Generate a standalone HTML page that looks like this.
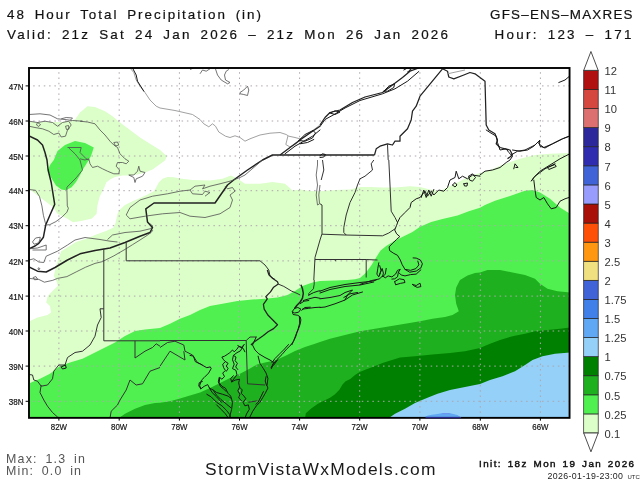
<!DOCTYPE html>
<html><head><meta charset="utf-8"><title>48 Hour Total Precipitation</title>
<style>
html,body{margin:0;padding:0;background:#fff;}
body{width:640px;height:480px;overflow:hidden;position:relative;font-family:"Liberation Sans",sans-serif;}
svg{position:absolute;left:0;top:0;}
text{font-family:"Liberation Sans",sans-serif;}
.t1{font-size:13.4px;fill:#111;word-spacing:3px;stroke:#111;stroke-width:0.2px;}
.ax{font-size:9.6px;fill:#111;stroke:#111;stroke-width:0.2px;}
.cb{font-size:11.2px;fill:#333;}
.mm{font-size:12.4px;fill:#555;word-spacing:3px;}
.wm{font-size:17.4px;fill:#1a1a1a;}
.in{font-size:9.8px;fill:#111;stroke:#111;stroke-width:0.45px;word-spacing:1.5px;}
.ts{font-size:8.8px;fill:#222;}
.c{fill:none;stroke:#181818;stroke-width:1.0;stroke-linejoin:round;stroke-linecap:round;}
.s{fill:none;stroke:#333;stroke-width:1.0;stroke-linejoin:round;}
.k{fill:none;stroke:#505050;stroke-width:0.8;stroke-linejoin:round;}
.s2{fill:none;stroke:#222;stroke-width:1.25;stroke-linejoin:round;}
.b{fill:none;stroke:#222;stroke-width:1.5;stroke-linejoin:round;}
.r{fill:none;stroke:#969696;stroke-width:0.9;stroke-linejoin:round;}
.g{stroke:#aea6ae;stroke-width:1;stroke-dasharray:1.5 3.8;stroke-dashoffset:-4.2;fill:none;}
</style></head><body>
<svg width="640" height="480" viewBox="0 0 640 480">
<defs><clipPath id="fr"><rect x="29.0" y="68.0" width="540.55" height="349.85"/></clipPath></defs>
<rect width="640" height="480" fill="#fff"/>
<g clip-path="url(#fr)" shape-rendering="geometricPrecision">
<polygon fill="#dcfec9" points="28.0,122.0 50.0,122.0 62.5,122.0 75.0,119.5 80.0,112.5 87.5,106.2 95.0,107.0 105.0,111.2 112.5,116.2 120.0,122.5 130.0,130.0 140.0,137.5 150.0,143.8 160.0,150.0 166.9,156.2 165.0,160.6 158.8,165.0 152.5,169.4 145.0,172.5 137.5,174.4 130.0,175.6 122.5,175.6 115.0,176.9 110.0,179.4 106.2,182.5 104.4,187.2 99.7,196.6 97.3,205.9 96.6,213.8 91.9,218.4 82.5,220.8 73.1,222.3 66.9,218.4 57.5,213.8 53.6,207.5 29.7,189.5 28.0,189.5"/>
<polygon fill="#dcfec9" points="28.0,321.0 30.0,321.0 37.5,317.5 47.5,315.0 51.0,312.5 50.0,306.0 46.2,302.5 47.8,296.0 53.5,290.0 57.8,286.0 56.5,281.0 53.8,276.0 55.6,268.1 58.4,258.8 61.2,251.2 68.8,246.5 76.0,242.0 87.5,238.3 95.0,235.0 106.0,231.0 113.5,227.5 115.5,223.0 117.5,214.0 119.4,210.0 125.0,205.0 132.5,201.2 140.0,198.1 147.5,194.4 153.8,191.2 156.2,187.5 158.8,182.5 162.5,178.8 167.5,176.9 173.8,177.2 180.0,178.5 192.5,180.0 210.0,180.5 222.5,178.8 231.0,175.5 237.5,178.8 245.0,183.8 260.0,183.8 272.5,182.0 285.0,183.8 292.5,190.5 300.0,189.5 310.0,191.0 320.0,191.2 335.0,190.0 350.0,189.5 360.0,187.0 370.0,187.0 382.5,187.5 395.0,187.5 410.0,186.2 420.0,187.0 430.0,189.5 440.0,191.0 455.0,183.8 470.0,176.0 490.0,170.0 505.0,163.8 520.0,158.8 535.0,155.0 550.0,153.8 571.0,153.0 571.0,420.0 28.0,420.0"/>
<polygon fill="#50f050" points="53.8,160.0 57.5,151.0 65.0,145.0 75.0,141.0 85.0,143.0 93.8,147.5 91.0,156.0 88.8,160.0 82.5,170.0 80.2,174.7 76.2,181.7 71.6,187.2 66.0,190.3 61.4,189.5 56.0,185.6 51.2,177.8 48.1,170.0 50.0,165.0"/>
<polygon fill="#50f050" points="28.0,384.0 30.0,383.0 40.0,378.8 50.0,373.8 60.0,366.0 70.0,362.5 82.5,358.8 95.0,352.5 105.0,347.5 115.0,342.5 125.0,336.0 135.0,331.0 145.0,329.5 160.0,328.0 170.0,323.8 180.0,318.8 190.0,315.0 200.0,310.0 210.0,306.0 222.5,303.8 237.5,301.0 252.5,299.5 265.0,298.8 277.5,297.5 287.5,295.0 295.0,291.0 302.5,286.0 312.5,282.5 320.0,281.0 335.0,280.5 347.5,280.0 355.0,279.3 360.0,278.0 365.6,273.1 371.2,265.6 376.9,256.2 380.6,250.6 386.2,245.9 393.8,241.2 401.2,237.5 412.5,231.9 420.0,226.8 431.2,222.0 442.5,219.0 457.5,215.5 468.8,211.2 480.0,207.8 485.0,205.0 495.0,200.8 510.0,196.0 525.0,190.8 532.5,190.0 540.0,192.5 550.0,198.8 560.0,207.5 571.0,214.5 571.0,420.0 28.0,420.0"/>
<polygon fill="#1eb01e" points="117.5,419.0 125.0,413.8 135.0,408.8 145.0,405.0 155.0,403.0 160.0,402.7 170.0,401.2 180.0,398.5 190.0,395.5 200.0,392.5 210.0,388.0 220.0,383.0 230.0,378.0 240.0,373.8 250.0,368.5 257.0,364.5 265.0,362.5 275.0,360.5 285.0,356.0 295.0,351.0 305.0,347.0 315.0,343.8 320.0,342.0 330.0,338.8 345.0,335.0 360.0,331.2 375.0,328.8 390.0,326.2 405.0,323.8 420.0,321.2 432.5,318.8 445.0,317.0 452.5,315.0 458.8,311.2 456.2,303.8 455.0,295.0 456.2,287.5 460.0,280.0 467.5,275.5 475.0,273.0 480.0,272.5 487.5,270.0 500.0,270.0 512.5,272.5 525.0,275.0 535.0,278.8 540.0,283.8 547.5,288.8 557.5,291.2 571.0,292.5 571.0,420.0 117.5,420.0"/>
<polygon fill="#008000" points="305.0,419.0 305.8,413.3 311.2,408.6 317.5,403.9 323.8,400.8 330.0,397.7 334.7,394.5 339.4,389.8 342.5,384.4 345.6,381.2 350.3,378.9 355.0,375.0 359.7,371.9 365.9,369.5 373.8,366.4 382.5,363.0 392.0,360.0 400.0,357.5 415.0,356.2 432.5,354.5 450.0,353.0 465.0,351.2 480.0,348.0 490.0,343.8 500.0,340.0 512.5,336.2 525.0,333.8 535.0,331.2 547.5,330.0 560.0,328.8 571.0,327.5 571.0,420.0 305.0,420.0"/>
<polygon fill="#94d0f8" points="387.5,419.0 395.0,413.8 405.0,408.8 415.0,403.0 425.0,398.8 437.5,393.8 450.0,390.0 465.0,387.0 480.0,384.0 490.0,380.0 502.5,376.2 515.0,371.2 525.0,365.0 532.5,360.0 542.5,356.2 555.0,353.8 571.0,352.5 571.0,420.0 387.5,420.0"/>
<polygon fill="#60a8f4" points="425.3,419.0 425.3,416.5 428.1,415.6 431.9,414.7 437.5,413.9 443.1,413.1 448.8,413.1 453.4,413.9 457.2,415.1 460.0,416.5 460.5,419.0"/>
<polygon fill="#6c98ee" points="441.0,414.2 443.1,413.1 448.8,413.1 451.0,414.2"/>
<line class="g" x1="58.9" y1="68.0" x2="58.9" y2="417.85"/>
<line class="g" x1="119.2" y1="68.0" x2="119.2" y2="417.85"/>
<line class="g" x1="179.4" y1="68.0" x2="179.4" y2="417.85"/>
<line class="g" x1="239.5" y1="68.0" x2="239.5" y2="417.85"/>
<line class="g" x1="299.6" y1="68.0" x2="299.6" y2="417.85"/>
<line class="g" x1="359.7" y1="68.0" x2="359.7" y2="417.85"/>
<line class="g" x1="419.9" y1="68.0" x2="419.9" y2="417.85"/>
<line class="g" x1="480.3" y1="68.0" x2="480.3" y2="417.85"/>
<line class="g" x1="540.4" y1="68.0" x2="540.4" y2="417.85"/>
<line class="g" x1="29.0" y1="85.9" x2="569.55" y2="85.9"/>
<line class="g" x1="29.0" y1="121.0" x2="569.55" y2="121.0"/>
<line class="g" x1="29.0" y1="156.0" x2="569.55" y2="156.0"/>
<line class="g" x1="29.0" y1="190.7" x2="569.55" y2="190.7"/>
<line class="g" x1="29.0" y1="225.7" x2="569.55" y2="225.7"/>
<line class="g" x1="29.0" y1="260.9" x2="569.55" y2="260.9"/>
<line class="g" x1="29.0" y1="296.1" x2="569.55" y2="296.1"/>
<line class="g" x1="29.0" y1="331.0" x2="569.55" y2="331.0"/>
<line class="g" x1="29.0" y1="366.1" x2="569.55" y2="366.1"/>
<line class="g" x1="29.0" y1="401.3" x2="569.55" y2="401.3"/>
<polyline class="b" points="29.0,136.0 37.5,140.0 42.5,145.0 45.0,152.5 47.0,160.0 48.1,170.0 51.2,182.5 54.7,204.4 51.2,212.2 45.8,224.7 43.4,237.2 38.8,243.4 35.0,246.0 29.0,248.8"/>
<polyline class="b" points="29.0,267.0 37.5,271.2 46.2,272.0 55.0,267.5 67.5,260.0 80.0,253.8 95.0,250.5 110.0,248.0 125.0,242.5 140.0,236.2 150.0,232.5 152.5,227.5 147.5,222.0 145.8,208.8 154.0,203.0 215.0,203.0 227.5,185.0 235.0,179.0 247.5,170.0 262.5,160.0 272.5,155.0 374.5,155.0"/>
<polyline class="k" points="29.0,114.5 40.0,113.8 50.0,115.0 57.5,118.8 65.0,119.5 72.5,120.5 82.5,121.2"/>
<polyline class="k" points="80.0,121.2 87.5,122.0 95.0,123.8 100.0,130.0 105.0,135.0 110.0,141.2 113.8,145.0 117.5,147.5 120.0,153.8 125.0,158.8 128.8,161.2 126.2,163.8 122.5,162.5 117.5,162.5 116.2,166.2 119.5,170.0 118.8,173.8 113.8,173.8 107.5,171.2 102.5,168.8 97.5,166.2 92.5,167.5 90.0,163.8 88.8,158.8 85.0,160.0 80.0,158.8"/>
<polyline class="k" points="113.8,142.5 117.5,142.0 118.8,145.0 115.5,146.0 113.8,142.5"/>
<polyline class="k" points="128.8,175.0 133.8,177.5 135.0,182.5 136.2,178.8 142.5,176.2 145.0,172.5 140.0,171.2 138.8,166.2 137.5,171.2 133.8,175.0 128.8,175.0"/>
<polyline class="k" points="29.0,121.2 37.5,122.5 45.0,121.2 52.5,122.5 57.5,126.2 62.5,122.5 68.8,121.2 71.2,125.0 67.5,130.0 65.5,136.2 61.2,137.0 58.8,133.0 53.8,134.5 48.8,131.2 42.5,128.8 35.0,127.5 29.0,126.2"/>
<polyline class="k" points="37.5,122.5 40.5,124.5 38.8,126.5 36.5,125.0 37.5,122.5"/>
<polyline class="k" points="61.2,118.8 66.2,117.5 72.5,118.0 70.0,120.5"/>
<polyline class="k" points="65.5,126.2 68.5,125.5 69.0,129.0 66.5,129.5 65.5,126.2"/>
<polyline class="k" points="67.5,147.5 81.2,147.5 80.0,152.5 86.2,158.8 88.8,160.0"/>
<polyline class="k" points="68.8,148.0 75.0,153.8 80.0,160.0"/>
<polyline class="k" points="82.5,170.0 76.2,177.8 70.0,184.1 66.9,187.2 66.9,190.3 67.3,205.9 68.4,208.3 66.9,212.2 62.2,216.9 55.9,221.6 49.7,224.7 45.8,225.0"/>
<polyline class="k" points="80.0,160.0 82.5,170.0"/>
<polyline class="k" points="29.1,189.5 35.6,190.3 39.5,196.6 41.9,205.9 43.4,215.3 45.8,224.7"/>
<polyline class="k" points="32.5,241.9 35.6,238.0 40.3,237.2 39.5,241.1 37.2,243.4 34.1,244.2 32.5,241.9"/>
<polyline class="k" points="29.0,248.8 37.5,248.0 46.2,245.0 46.2,250.0 32.5,250.0"/>
<polyline class="r" points="130.0,68.0 133.8,72.5 136.2,80.0 140.0,86.2 145.0,92.5 150.0,100.0 156.2,106.2 160.0,108.0"/>
<polyline class="c" points="132.5,68.0 136.2,75.0 137.5,81.2 143.8,91.2"/>
<polyline class="r" points="160.0,108.0 175.0,110.5 192.5,114.5 200.0,119.5 203.8,123.8 208.8,126.8 212.5,123.8 215.5,126.2 218.8,132.0 225.5,136.2 230.0,137.5 235.0,135.8 240.0,137.5 245.0,141.2 250.0,138.8 260.0,135.0 270.0,133.2 280.0,132.5 286.2,134.5 288.8,136.2 295.0,137.5 300.0,138.8 305.0,136.2 310.0,132.5 315.0,128.8 320.0,125.0"/>
<polyline class="r" points="288.0,135.8 285.8,144.5 290.0,147.0 296.2,143.8 300.0,140.0"/>
<polyline class="k" points="126.2,215.0 130.0,207.5 140.0,200.0 152.5,196.2 167.5,193.8 180.0,191.2 190.0,190.0 195.0,186.2 205.0,185.0 202.5,188.8 210.0,186.2 220.0,183.8 230.0,181.2 240.0,177.5 245.0,175.0 262.5,160.0"/>
<polyline class="k" points="190.0,190.0 192.5,193.8 202.5,194.5 205.0,191.2 210.0,192.5 205.0,196.2"/>
<polyline class="k" points="126.2,215.0 130.0,218.8 145.0,216.2 162.5,213.8 180.0,212.5 190.0,216.2 205.0,217.5 220.0,213.8 230.0,207.5 232.5,200.0 230.0,195.0 235.0,191.2 232.5,187.5 227.5,188.8 225.0,186.2"/>
<polyline class="k" points="29.0,260.0 33.8,258.8 38.8,262.0 43.8,262.5 46.2,256.2 57.5,251.2 67.5,245.0 75.0,240.0 85.0,237.5 100.0,239.5 110.0,241.2 117.5,242.0"/>
<polyline class="k" points="107.5,239.5 112.5,235.0 125.0,232.5 140.0,231.2 150.0,228.8 153.0,226.2 150.0,223.8"/>
<polyline class="k" points="29.0,278.4 38.8,279.4 44.4,282.2 52.8,280.3 57.5,278.4 66.9,276.6 76.2,271.9 85.6,267.2 95.0,263.4 102.5,261.6 113.8,255.9 125.0,249.4 132.5,244.7 140.0,240.0 146.0,236.1 151.1,232.5 152.9,230.1"/>
<polyline class="k" points="33.1,277.5 35.9,276.6 37.8,279.4 34.6,279.8 33.1,277.5"/>
<polyline class="k" points="38.4,267.8 39.9,268.5 38.8,270.0 38.0,268.9 38.4,267.8"/>
<polyline class="k" points="190.0,69.5 193.8,68.0"/>
<polyline class="k" points="200.0,73.8 202.5,70.0 206.2,71.2 210.0,68.8"/>
<polyline class="k" points="215.5,69.0 217.5,75.0 221.2,80.0 227.5,83.8 230.0,82.5 225.5,80.0 224.5,75.0 226.2,71.2 228.8,69.5"/>
<polyline class="k" points="240.0,92.5 243.8,90.0 247.5,86.2 248.8,90.0 247.5,95.5 243.8,94.5 240.0,93.8 240.0,92.5"/>
<polyline class="s2" points="280.0,155.0 290.0,147.5 300.0,140.0 310.0,133.0 320.0,126.2"/>
<polyline class="c" points="285.0,153.8 295.0,146.2 303.8,141.2 312.5,136.2 320.0,130.0"/>
<polyline class="c" points="298.8,140.5 305.0,134.5 313.0,130.5 315.5,133.0 312.5,138.0 305.0,141.2 298.8,140.5"/>
<polyline class="c" points="300.0,143.8 307.5,142.5 313.8,139.5"/>
<polyline class="s2" points="320.0,125.0 325.0,117.5 330.0,112.5 340.0,110.0 352.5,102.5 365.0,97.0 382.5,92.5 392.5,85.0 402.5,77.5 410.0,71.2 418.8,68.0"/>
<polyline class="c" points="320.0,126.5 325.0,119.5 335.0,114.0 345.0,108.0 360.0,100.5 382.5,93.8 395.0,88.8 407.5,81.2 418.8,71.5"/>
<polyline class="c" points="330.0,113.0 335.0,110.8 340.0,112.0 335.0,114.5 330.0,113.0"/>
<polyline class="c" points="383.8,91.2 388.8,86.2 394.5,83.8 393.8,87.5 387.5,91.2 383.8,91.2"/>
<polyline class="c" points="403.8,70.0 407.5,68.0 411.2,69.5 407.5,72.0"/>
<polyline class="s2" points="442.5,68.8 420.0,96.2 416.2,106.2 412.5,111.2 411.2,120.0 407.5,128.8 400.0,136.2 400.0,141.2 395.0,141.2 392.5,145.0 387.5,143.8 380.0,146.2 376.2,148.8 374.5,155.0"/>
<polyline class="s" points="387.5,144.5 388.2,160.0"/>
<polyline class="s2" points="442.5,68.8 447.5,71.2 448.8,77.0 453.8,78.8 463.8,75.0 470.0,72.5 475.0,73.8 480.0,77.5"/>
<polyline class="r" points="447.5,73.8 465.0,70.0"/>
<polyline class="c" points="320.0,155.5 322.5,153.8 325.5,154.5 323.8,157.0 320.0,157.5"/>
<polyline class="s2" points="480.0,77.5 485.0,81.2 486.2,125.0 488.8,130.0 495.0,133.8 497.5,140.0 496.2,143.8 500.0,147.5 505.0,148.8 510.0,150.0 512.5,155.0 507.5,158.8"/>
<polyline class="c" points="512.5,150.0 520.0,151.2 527.5,150.0 533.8,146.2 538.8,141.2 540.0,140.0 538.8,143.8 543.8,147.5 552.5,143.8 562.5,138.8 569.5,136.2"/>
<polyline class="c" points="558.8,82.5 565.0,80.0 569.5,76.2"/>
<polyline class="s" points="103.8,248.8 103.8,280.0"/>
<polyline class="s" points="126.2,242.5 126.2,260.8 160.0,260.8"/>
<polyline class="s" points="160.0,260.8 260.0,260.8 265.0,265.0 268.8,270.0 270.0,276.2 275.0,279.5"/>
<polyline class="k" points="317.5,160.0 317.5,165.0 316.2,175.0 317.5,185.0 316.2,195.0 317.5,205.0 319.5,203.8 318.8,195.0 320.0,185.0"/>
<polyline class="s" points="320.0,240.0 315.0,257.5 313.8,280.0"/>
<polyline class="s" points="315.0,259.5 320.0,259.5"/>
<polyline class="s" points="373.8,160.0 371.2,163.8 372.5,170.0 365.0,176.2 360.0,178.8 357.5,185.0 355.0,192.5 350.0,202.5 346.2,215.0 343.8,227.5 343.8,232.5 346.2,235.0"/>
<polyline class="s" points="322.5,160.0 323.8,170.0 321.2,180.0"/>
<polyline class="s" points="320.0,203.8 322.0,205.0 322.0,233.8 320.0,240.0"/>
<polyline class="s" points="322.0,234.2 345.0,235.0 382.5,235.8 388.8,233.0 395.0,228.8"/>
<polyline class="s" points="388.8,160.0 390.0,185.0 391.2,211.2 395.0,217.5 397.5,222.5"/>
<polyline class="c" points="397.5,222.5 400.0,217.5 405.0,212.5 410.0,207.5 411.2,202.5 416.2,198.8 420.0,197.5 425.0,191.2 427.5,196.2 431.2,191.2 433.8,195.0 438.8,190.0 443.8,191.2 447.5,187.5 450.0,180.0 455.0,177.5 456.2,171.2 458.8,178.8 462.5,176.2 467.5,178.8 472.5,175.0 480.0,176.2"/>
<polyline class="c" points="421.2,197.5 423.8,190.0 426.2,197.5 428.8,190.0 431.2,196.2 433.8,189.5"/>
<polyline class="c" points="452.5,185.0 455.0,182.5 457.0,185.0 455.0,187.0 452.5,185.0"/>
<polyline class="c" points="463.8,183.8 467.5,183.0 467.0,186.0 464.5,186.0 463.8,183.8"/>
<polyline class="c" points="468.8,176.2 472.5,173.8 475.5,177.5 472.5,181.2 469.5,180.0 468.8,176.2"/>
<polyline class="s" points="320.0,259.5 335.0,259.5 366.2,259.5 377.5,260.0"/>
<polyline class="s" points="335.0,259.5 335.5,261.2"/>
<polyline class="s" points="366.2,259.5 366.2,277.5"/>
<polyline class="c" points="397.5,222.9 396.6,225.3 394.7,230.0 396.6,233.8 399.8,236.6 396.6,239.4 392.8,243.1 389.1,246.9 389.6,250.6 393.8,253.4 397.5,255.3 400.3,260.0 402.2,264.7 405.0,269.4 409.7,272.2 416.2,271.1 420.9,267.9 422.4,263.8 420.4,260.0 416.2,258.1 413.1,257.9"/>
<polyline class="c" points="405.0,269.4 410.6,270.3 415.9,268.6 418.9,264.9 417.8,261.1"/>
<polyline class="c" points="420.9,269.8 416.2,274.1 410.6,274.6 405.0,275.9 401.2,275.0 398.4,272.2 400.3,269.4 397.5,270.3 395.6,274.1 391.9,276.9 388.1,275.9 385.3,277.8 382.5,275.9 379.7,278.8 375.9,279.7 371.2,280.6 365.6,282.5 360.0,284.4"/>
<polyline class="c" points="398.4,272.2 397.5,276.9 394.7,278.8 391.9,279.1"/>
<polyline class="c" points="378.8,262.8 377.8,268.4 376.9,274.1 378.8,276.9 380.6,272.2 382.1,268.4 383.4,273.1 382.5,276.9 385.3,274.1 386.2,268.4"/>
<polyline class="c" points="379.7,265.6 381.0,270.3 379.5,275.0"/>
<polyline class="c" points="394.7,281.6 399.4,278.8 404.1,279.7 405.0,282.5 400.3,283.4 395.6,284.8 394.7,281.6"/>
<polyline class="c" points="412.5,284.4 416.2,285.5 420.0,283.2 420.9,286.6 417.2,287.4 413.4,285.5 412.5,284.4"/>
<polyline class="c" points="480.0,175.0 485.0,171.2 492.5,170.0 500.0,167.5 506.2,162.5 510.0,160.0 512.5,156.2 508.8,152.5 506.2,148.8 500.0,150.0 497.5,142.5 496.2,136.2 490.0,132.5 486.2,130.0"/>
<polyline class="c" points="511.2,155.0 517.5,151.2 525.0,150.0 535.0,145.0 538.8,141.2 540.0,146.2 545.0,148.0 552.5,143.8 562.5,138.8 569.0,136.2"/>
<polyline class="c" points="513.8,168.8 515.0,163.8 518.0,167.5 515.8,167.5"/>
<polyline class="c" points="569.0,154.2 560.0,158.8 550.0,165.0 540.0,171.2 533.8,177.5 531.2,181.2 535.0,176.2 545.0,168.8 555.0,163.8"/>
<polyline class="c" points="533.8,180.0 535.0,190.0 536.2,197.5 540.0,200.0 543.8,197.5 547.5,203.8 551.2,208.8 556.2,207.5 560.0,201.2 565.0,198.8 569.0,197.5"/>
<polyline class="c" points="547.5,167.5 555.0,164.5 556.2,166.5 548.8,169.5 547.5,167.5"/>
<polyline class="s" points="103.8,280.0 103.8,340.8 160.0,340.8"/>
<polyline class="s" points="103.8,308.8 100.0,308.8 101.2,317.5 97.5,325.0 95.0,336.2 90.0,345.0 82.5,351.2 75.0,352.5 67.5,357.5 65.0,365.0 58.8,365.0 53.8,371.2 52.5,378.8 47.5,385.0 41.2,386.2 37.5,381.2 33.8,380.0 32.5,375.0 29.0,374.5"/>
<polyline class="c" points="61.2,367.0 65.5,365.0 66.2,368.0 62.5,369.0 61.2,367.0"/>
<polyline class="s" points="135.0,340.8 135.0,358.0 145.0,351.2 152.5,347.5 156.2,343.8 160.0,346.2"/>
<polyline class="s" points="160.0,367.5 150.0,371.2 142.5,383.8 136.2,385.0 130.0,380.0 126.2,390.0 120.0,400.0"/>
<polyline class="s" points="41.2,385.0 40.0,392.5 43.8,400.0 47.5,406.2 52.5,412.5 57.5,417.0 60.0,418.0"/>
<polyline class="s" points="120.0,400.0 117.5,405.0 111.2,411.2 110.0,418.0"/>
<polyline class="s" points="160.0,340.5 246.2,340.5"/>
<polyline class="s" points="246.2,340.5 247.5,383.8 265.0,385.0"/>
<polyline class="s" points="246.2,340.5 250.0,337.0 256.2,337.0"/>
<polyline class="c" points="271.2,367.5 273.8,362.5 270.0,360.0 265.0,357.5 258.8,353.8 255.0,350.0 252.5,345.0 256.2,337.0"/>
<polyline class="s2" points="267.3,270.0 268.9,274.7 272.8,278.6 277.5,281.7 278.3,284.1 273.6,287.2 270.5,291.9 265.8,296.6 267.3,298.9 263.4,304.4 264.2,309.1 268.1,315.3 272.8,320.0 277.5,324.7 273.6,328.6 268.1,331.7 263.4,335.6 258.8,338.8 254.1,341.9 250.9,345.0"/>
<polyline class="s" points="278.3,284.1 283.8,286.4 291.6,291.1 297.0,293.4 300.2,295.0"/>
<polyline class="s" points="314.2,280.0 314.2,284.1 313.4,288.8 308.8,293.4 308.8,295.8"/>
<polyline class="b" points="300.9,284.8 302.5,288.8 303.3,293.4 302.5,298.1 300.2,302.0 297.0,305.2 294.7,308.3"/>
<polyline class="c" points="308.8,295.0 313.4,292.7 318.1,291.1 320.0,290.8"/>
<polyline class="c" points="303.3,300.5 308.8,298.9 315.0,297.3 320.0,298.3"/>
<polyline class="c" points="300.2,303.6 304.1,301.2 308.8,300.5"/>
<polyline class="c" points="302.5,309.1 308.8,308.3 315.0,307.5 320.0,307.2"/>
<polyline class="c" points="301.7,310.3 304.8,307.5 310.3,307.2"/>
<polyline class="c" points="294.7,308.3 292.3,311.4 293.1,314.5 297.8,315.3 300.2,316.9 300.9,320.0 300.2,323.9 298.6,328.6 297.0,332.5 295.5,337.2 293.1,341.9 290.8,345.0"/>
<polyline class="c" points="294.7,308.3 297.8,307.5 300.9,309.1 298.6,312.2 294.7,313.0 292.8,311.9"/>
<polyline class="c" points="299.4,316.9 299.7,323.1 298.1,329.1 295.9,334.8 293.9,340.3 291.9,344.7"/>
<polyline class="c" points="290.8,345.0 286.5,349.2 282.0,354.5 276.7,359.8 273.2,364.2 271.4,368.6"/>
<polyline class="c" points="288.5,344.5 284.5,349.0 280.0,353.5 275.0,358.5 272.0,362.5"/>
<polyline class="s" points="160.0,347.5 167.5,342.5 175.0,341.2 183.8,345.0 185.0,351.2 192.5,355.0 197.5,362.5 202.5,365.0"/>
<polyline class="s" points="160.0,366.2 170.0,351.2 185.0,360.0 183.8,351.2"/>
<polyline class="c" points="190.0,355.4 193.5,356.2 195.3,361.6 200.6,364.2 206.8,367.7 210.3,366.9 211.2,368.6 208.6,373.1 204.2,377.5 201.5,380.1 199.7,385.4 200.6,389.0 204.2,386.3 207.7,384.6 209.5,388.1 213.0,389.9 216.6,392.5 222.7,394.3 228.1,396.1 231.6,398.7"/>
<polyline class="c" points="201.0,388.1 198.8,386.3 199.2,382.8 202.4,381.4"/>
<polyline class="c" points="206.8,394.3 211.2,396.9 216.6,402.3 221.9,405.8 226.3,410.2 229.8,414.6 230.7,418.2"/>
<polyline class="c" points="213.0,389.9 216.6,395.2 221.0,399.6 226.3,404.0 230.7,407.6"/>
<polyline class="c" points="209.5,388.1 212.1,392.5 216.6,396.9 221.5,402.3"/>
<polyline class="c" points="216.6,404.9 221.0,409.3 225.4,413.8 228.1,417.8"/>
<polyline class="c" points="244.0,344.7 241.3,347.4 238.7,346.5 236.9,349.2 234.2,351.8 232.5,350.0 229.8,352.7 227.2,354.5 224.5,356.2 221.9,357.1 223.6,359.8 225.4,361.6 222.7,364.2 223.6,367.7 225.4,370.4 222.7,373.1 224.5,376.6 221.9,379.2 219.7,377.5 219.2,382.8 221.9,386.3 225.4,388.1 228.1,393.4 230.7,396.1 232.5,402.3 231.6,409.3 229.8,416.4 229.3,419.1"/>
<polyline class="c" points="225.4,361.6 228.1,363.3 226.3,366.0 228.1,368.6 226.3,371.3"/>
<polyline class="c" points="219.2,377.5 218.3,381.9 220.4,386.3 223.6,389.0 226.3,391.6"/>
<polyline class="c" points="244.0,344.7 240.4,350.9 236.9,352.7 233.4,355.4 232.5,359.8 234.2,364.2 232.5,368.6 236.0,370.4 236.9,374.8 234.2,378.4 231.6,381.9 235.1,380.1 239.6,379.2 238.7,382.8 239.6,387.2 242.2,389.9 241.3,393.4 244.0,396.1 245.8,398.7 243.1,402.3 244.9,405.8 248.4,404.9 249.3,409.3 246.6,413.8 244.9,418.2"/>
<polyline class="c" points="233.4,355.4 236.0,357.1 235.1,360.7 237.4,363.3 235.7,366.9 237.8,369.5"/>
<polyline class="c" points="231.6,381.9 230.7,378.4 233.4,375.7"/>
<polyline class="c" points="239.6,387.2 237.8,390.8 239.9,394.3 238.7,397.8 241.3,400.5"/>
<polyline class="c" points="237.8,345.6 243.1,348.3 244.9,351.8"/>
<polyline class="c" points="258.1,356.2 259.9,363.3 263.4,368.6 266.1,373.1 267.9,378.4 267.0,385.4 267.9,388.1 265.2,393.4 262.6,397.8 259.9,402.3 256.4,405.8 252.8,411.1 249.3,418.2"/>
<polyline class="c" points="266.1,376.6 265.2,381.0 266.5,385.4"/>
<polyline class="c" points="263.4,391.6 260.8,396.9 258.1,402.3 255.8,404.4"/>
<polyline class="s" points="248.4,402.3 257.3,400.8"/>
<polyline class="c" points="277.5,360.0 273.8,365.0 271.2,367.5"/>
<polyline class="c" points="320.0,291.2 330.0,287.5 345.0,284.5 360.0,282.5 372.5,281.2 376.2,280.0"/>
<polyline class="c" points="320.0,293.0 330.0,289.5 345.0,286.5 360.0,285.0 373.8,282.0"/>
<polyline class="c" points="320.0,298.8 330.0,297.5 340.0,295.5 345.0,292.5 352.5,290.0 347.5,295.0 345.0,300.0 335.0,303.8 325.0,307.0 320.0,307.5"/>
<polyline class="c" points="345.0,300.0 352.5,295.0 362.5,292.0"/>
<polyline class="c" points="343.8,297.5 350.0,293.8 357.5,292.5"/>
</g>
<rect x="29.0" y="68.0" width="540.55" height="349.85" fill="none" stroke="#000" stroke-width="1.9"/>
<line x1="425.5" y1="417.7" x2="461" y2="417.7" stroke="#26268c" stroke-width="1.3"/>
<line x1="58.9" y1="417.85" x2="58.9" y2="420.65000000000003" stroke="#000" stroke-width="1"/>
<line x1="119.2" y1="417.85" x2="119.2" y2="420.65000000000003" stroke="#000" stroke-width="1"/>
<line x1="179.4" y1="417.85" x2="179.4" y2="420.65000000000003" stroke="#000" stroke-width="1"/>
<line x1="239.5" y1="417.85" x2="239.5" y2="420.65000000000003" stroke="#000" stroke-width="1"/>
<line x1="299.6" y1="417.85" x2="299.6" y2="420.65000000000003" stroke="#000" stroke-width="1"/>
<line x1="359.7" y1="417.85" x2="359.7" y2="420.65000000000003" stroke="#000" stroke-width="1"/>
<line x1="419.9" y1="417.85" x2="419.9" y2="420.65000000000003" stroke="#000" stroke-width="1"/>
<line x1="480.3" y1="417.85" x2="480.3" y2="420.65000000000003" stroke="#000" stroke-width="1"/>
<line x1="540.4" y1="417.85" x2="540.4" y2="420.65000000000003" stroke="#000" stroke-width="1"/>
<line x1="25.6" y1="85.9" x2="29.0" y2="85.9" stroke="#000" stroke-width="1"/>
<line x1="25.6" y1="121.0" x2="29.0" y2="121.0" stroke="#000" stroke-width="1"/>
<line x1="25.6" y1="156.0" x2="29.0" y2="156.0" stroke="#000" stroke-width="1"/>
<line x1="25.6" y1="190.7" x2="29.0" y2="190.7" stroke="#000" stroke-width="1"/>
<line x1="25.6" y1="225.7" x2="29.0" y2="225.7" stroke="#000" stroke-width="1"/>
<line x1="25.6" y1="260.9" x2="29.0" y2="260.9" stroke="#000" stroke-width="1"/>
<line x1="25.6" y1="296.1" x2="29.0" y2="296.1" stroke="#000" stroke-width="1"/>
<line x1="25.6" y1="331.0" x2="29.0" y2="331.0" stroke="#000" stroke-width="1"/>
<line x1="25.6" y1="366.1" x2="29.0" y2="366.1" stroke="#000" stroke-width="1"/>
<line x1="25.6" y1="401.3" x2="29.0" y2="401.3" stroke="#000" stroke-width="1"/>
<rect x="583.7" y="413.92" width="14.5" height="19.08" fill="#dcfec9" stroke="#222" stroke-width="0.7"/>
<rect x="583.7" y="394.83" width="14.5" height="19.08" fill="#50f050" stroke="#222" stroke-width="0.7"/>
<rect x="583.7" y="375.75" width="14.5" height="19.08" fill="#1eb01e" stroke="#222" stroke-width="0.7"/>
<rect x="583.7" y="356.66" width="14.5" height="19.08" fill="#008000" stroke="#222" stroke-width="0.7"/>
<rect x="583.7" y="337.58" width="14.5" height="19.08" fill="#94d0f8" stroke="#222" stroke-width="0.7"/>
<rect x="583.7" y="318.49" width="14.5" height="19.08" fill="#60a8f4" stroke="#222" stroke-width="0.7"/>
<rect x="583.7" y="299.41" width="14.5" height="19.08" fill="#4080e8" stroke="#222" stroke-width="0.7"/>
<rect x="583.7" y="280.33" width="14.5" height="19.08" fill="#4064d8" stroke="#222" stroke-width="0.7"/>
<rect x="583.7" y="261.24" width="14.5" height="19.08" fill="#f0e080" stroke="#222" stroke-width="0.7"/>
<rect x="583.7" y="242.16" width="14.5" height="19.08" fill="#ff9810" stroke="#222" stroke-width="0.7"/>
<rect x="583.7" y="223.07" width="14.5" height="19.08" fill="#ff5008" stroke="#222" stroke-width="0.7"/>
<rect x="583.7" y="203.99" width="14.5" height="19.08" fill="#a81008" stroke="#222" stroke-width="0.7"/>
<rect x="583.7" y="184.91" width="14.5" height="19.08" fill="#989cfc" stroke="#222" stroke-width="0.7"/>
<rect x="583.7" y="165.82" width="14.5" height="19.08" fill="#4064d8" stroke="#222" stroke-width="0.7"/>
<rect x="583.7" y="146.74" width="14.5" height="19.08" fill="#302cb0" stroke="#222" stroke-width="0.7"/>
<rect x="583.7" y="127.65" width="14.5" height="19.08" fill="#2c289c" stroke="#222" stroke-width="0.7"/>
<rect x="583.7" y="108.57" width="14.5" height="19.08" fill="#dc7070" stroke="#222" stroke-width="0.7"/>
<rect x="583.7" y="89.48" width="14.5" height="19.08" fill="#d54840" stroke="#222" stroke-width="0.7"/>
<rect x="583.7" y="70.40" width="14.5" height="19.08" fill="#b01010" stroke="#222" stroke-width="0.7"/>
<polygon points="583.7,70.4 590.95,51.5 598.2,70.4" fill="#fff" stroke="#222" stroke-width="0.8"/>
<polygon points="583.7,433.0 590.95,451.8 598.2,433.0" fill="#fff" stroke="#222" stroke-width="0.8"/>
<g style="filter:grayscale(1)">
<text class="ax" x="50.8" y="429.8" textLength="16.2" lengthAdjust="spacingAndGlyphs">82W</text>
<text class="ax" x="111.1" y="429.8" textLength="16.2" lengthAdjust="spacingAndGlyphs">80W</text>
<text class="ax" x="171.3" y="429.8" textLength="16.2" lengthAdjust="spacingAndGlyphs">78W</text>
<text class="ax" x="231.4" y="429.8" textLength="16.2" lengthAdjust="spacingAndGlyphs">76W</text>
<text class="ax" x="291.5" y="429.8" textLength="16.2" lengthAdjust="spacingAndGlyphs">74W</text>
<text class="ax" x="351.6" y="429.8" textLength="16.2" lengthAdjust="spacingAndGlyphs">72W</text>
<text class="ax" x="411.8" y="429.8" textLength="16.2" lengthAdjust="spacingAndGlyphs">70W</text>
<text class="ax" x="472.2" y="429.8" textLength="16.2" lengthAdjust="spacingAndGlyphs">68W</text>
<text class="ax" x="532.3" y="429.8" textLength="16.2" lengthAdjust="spacingAndGlyphs">66W</text>
<text class="ax" x="8.8" y="89.5" textLength="14.8" lengthAdjust="spacingAndGlyphs">47N</text>
<text class="ax" x="8.8" y="124.6" textLength="14.8" lengthAdjust="spacingAndGlyphs">46N</text>
<text class="ax" x="8.8" y="159.6" textLength="14.8" lengthAdjust="spacingAndGlyphs">45N</text>
<text class="ax" x="8.8" y="194.3" textLength="14.8" lengthAdjust="spacingAndGlyphs">44N</text>
<text class="ax" x="8.8" y="229.3" textLength="14.8" lengthAdjust="spacingAndGlyphs">43N</text>
<text class="ax" x="8.8" y="264.5" textLength="14.8" lengthAdjust="spacingAndGlyphs">42N</text>
<text class="ax" x="8.8" y="299.7" textLength="14.8" lengthAdjust="spacingAndGlyphs">41N</text>
<text class="ax" x="8.8" y="334.6" textLength="14.8" lengthAdjust="spacingAndGlyphs">40N</text>
<text class="ax" x="8.8" y="369.7" textLength="14.8" lengthAdjust="spacingAndGlyphs">39N</text>
<text class="ax" x="8.8" y="404.9" textLength="14.8" lengthAdjust="spacingAndGlyphs">38N</text>
<text class="cb" x="604.6" y="437.7">0.1</text>
<text class="cb" x="604.6" y="418.6">0.25</text>
<text class="cb" x="604.6" y="399.5">0.5</text>
<text class="cb" x="604.6" y="380.4">0.75</text>
<text class="cb" x="604.6" y="361.4">1</text>
<text class="cb" x="604.6" y="342.3">1.25</text>
<text class="cb" x="604.6" y="323.2">1.5</text>
<text class="cb" x="604.6" y="304.1">1.75</text>
<text class="cb" x="604.6" y="285.0">2</text>
<text class="cb" x="604.6" y="265.9">2.5</text>
<text class="cb" x="604.6" y="246.9">3</text>
<text class="cb" x="604.6" y="227.8">4</text>
<text class="cb" x="604.6" y="208.7">5</text>
<text class="cb" x="604.6" y="189.6">6</text>
<text class="cb" x="604.6" y="170.5">7</text>
<text class="cb" x="604.6" y="151.4">8</text>
<text class="cb" x="604.6" y="132.4">9</text>
<text class="cb" x="604.6" y="113.3">10</text>
<text class="cb" x="604.6" y="94.2">11</text>
<text class="cb" x="604.6" y="75.1">12</text>
<text class="t1" x="7" y="19.3" textLength="254" lengthAdjust="spacing">48 Hour Total Precipitation (in)</text>
<text class="t1" x="7" y="39.3" textLength="441" lengthAdjust="spacing">Valid: 21z Sat 24 Jan 2026 – 21z Mon 26 Jan 2026</text>
<text class="t1" x="490" y="19.3" textLength="142.5" lengthAdjust="spacing">GFS–ENS–MAXRES</text>
<text class="t1" x="494.5" y="39.3" textLength="137" lengthAdjust="spacing">Hour: 123 – 171</text>
<text class="mm" x="6" y="463" textLength="79" lengthAdjust="spacing">Max: 1.3 in</text>
<text class="mm" x="6" y="475" textLength="75" lengthAdjust="spacing">Min: 0.0 in</text>
<text class="wm" x="205" y="475" textLength="230.5" lengthAdjust="spacing">StormVistaWxModels.com</text>
<text class="in" x="479" y="467.4" textLength="155" lengthAdjust="spacing">Init: 18z Mon 19 Jan 2026</text>
<text class="ts" x="547.5" y="478.6" textLength="75.5" lengthAdjust="spacing">2026-01-19-23:00</text>
<text class="ts" x="627.5" y="478.6" textLength="12.3" lengthAdjust="spacingAndGlyphs" style="font-size:5.8px">UTC</text>
</g>
</svg></body></html>
